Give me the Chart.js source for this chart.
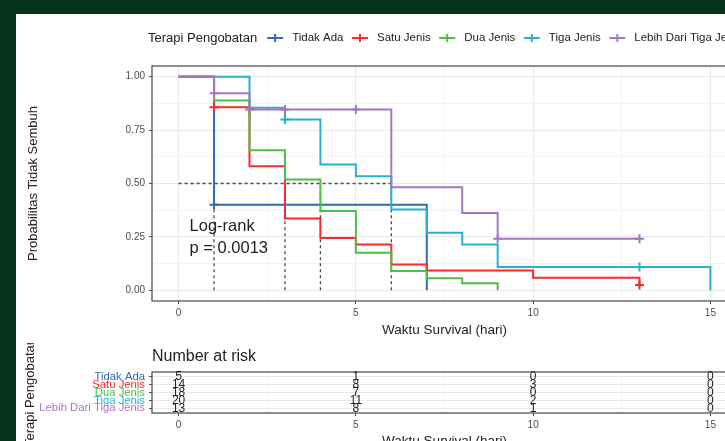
<!DOCTYPE html>
<html lang="id">
<head>
<meta charset="UTF-8">
<title>Kurva Kaplan-Meier Terapi Pengobatan</title>
<script src="https://cdn.jsdelivr.net/npm/chart.js"></script>
<style>
  html, body { margin: 0; padding: 0; width: 725px; height: 441px; overflow: hidden; background: #05341b; }
  #sheet { position: absolute; left: 16px; top: 14px; right: 0; bottom: 0; background: #fff; }
  canvas { position: absolute; left: 0; }
  #kmChart { top: 0; }
  #riskChart { top: 343px; }
</style>
</head>
<body>
<div id="sheet"></div>
<canvas id="kmChart" width="760" height="343"></canvas>
<canvas id="riskChart" width="760" height="107"></canvas>
<script>
const legendTitle = 'Terapi Pengobatan';
const groupNames = ['Tidak Ada', 'Satu Jenis', 'Dua Jenis', 'Tiga Jenis', 'Lebih Dari Tiga Jenis'];
const groupColors = ['#2f6cb2', '#f9292c', '#4cbe44', '#26b0d2', '#a677bf'];

// kaplan-meier steps (hari, probabilitas)
const tidakAdaTime = [0, 1, 7];
const tidakAdaSurv = [1, 0.40, 0];
const satuJenisTime = [0, 1, 2, 3, 4, 5, 6, 7, 10, 13];
const satuJenisSurv = [1, 0.857, 0.581, 0.336, 0.245, 0.215, 0.121, 0.093, 0.059, 0.025];
const duaJenisTime = [0, 1, 2, 3, 4, 5, 6, 7, 8, 9];
const duaJenisSurv = [1, 0.889, 0.656, 0.519, 0.371, 0.176, 0.09, 0.056, 0.033, 0];
const tigaJenisTime = [0, 2, 3, 4, 5, 6, 7, 8, 9, 15];
const tigaJenisSurv = [1, 0.854, 0.80, 0.589, 0.534, 0.378, 0.27, 0.215, 0.109, 0];
const lebihTime = [0, 1, 2, 6, 8, 9, 13];
const lebihSurv = [1, 0.923, 0.846, 0.483, 0.362, 0.241, 0.241];

// censor (+)
const tidakAdaCensorTime = [1];
const tidakAdaCensorSurv = [0.40];
const satuJenisCensorTime = [1, 13];
const satuJenisCensorSurv = [0.857, 0.025];
const duaJenisCensorTime = [];
const duaJenisCensorSurv = [];
const tigaJenisCensorTime = [3, 13];
const tigaJenisCensorSurv = [0.80, 0.109];
const lebihCensorTime = [1, 2, 3, 5, 9, 13];
const lebihCensorSurv = [0.923, 0.846, 0.846, 0.846, 0.241, 0.241];

const medianTimes = [1, 3, 4, 6];
const pvalText = ['Log-rank', 'p = 0.0013'];

// number at risk
const riskTimes = [0, 5, 10, 15];
const riskTidakAda = [5, 1, 0, 0];
const riskSatuJenis = [14, 8, 3, 0];
const riskDuaJenis = [18, 7, 0, 0];
const riskTigaJenis = [20, 11, 2, 0];
const riskLebih = [13, 8, 1, 0];

const xTicks = [0, 5, 10, 15];
const xTickLabels = ['0', '5', '10', '15'];
const yTicks = [0, 0.25, 0.5, 0.75, 1];
const yTickLabels = ['0.00', '0.25', '0.50', '0.75', '1.00'];

const FONT = '"Liberation Sans", Arial, sans-serif';
Chart.defaults.font.family = FONT;

const survTimes = [tidakAdaTime, satuJenisTime, duaJenisTime, tigaJenisTime, lebihTime];
const survProbs = [tidakAdaSurv, satuJenisSurv, duaJenisSurv, tigaJenisSurv, lebihSurv];
const censorTimes = [tidakAdaCensorTime, satuJenisCensorTime, duaJenisCensorTime, tigaJenisCensorTime, lebihCensorTime];
const censorProbs = [tidakAdaCensorSurv, satuJenisCensorSurv, duaJenisCensorSurv, tigaJenisCensorSurv, lebihCensorSurv];
const riskCounts = [riskTidakAda, riskSatuJenis, riskDuaJenis, riskTigaJenis, riskLebih];

// major + minor grid values, like ggplot
const xGrid = [0, 2.5, 5, 7.5, 10, 12.5, 15];
const yGrid = [0, 0.125, 0.25, 0.375, 0.5, 0.625, 0.75, 0.875, 1];

const gridColor = ctx => (ctx.tick && (ctx.tick.major ? '#e9e9e9' : '#f4f4f4'));
const tickColor = ctx => (ctx.tick && ctx.tick.major ? '#4d4d4d' : 'rgba(0,0,0,0)');

function setTicks(values, majors) {
  return scale => {
    scale.ticks = values.map(v => ({ value: v, major: majors.includes(v) }));
  };
}

const datasets = [];
groupNames.forEach((name, i) => {
  datasets.push({
    label: name,
    data: survTimes[i].map((t, k) => ({ x: t, y: survProbs[i][k] })),
    borderColor: groupColors[i],
    borderWidth: 2,
    stepped: 'before',
    pointRadius: 0,
    fill: false,
    order: 10 - i
  });
  datasets.push({
    label: name + ' censor',
    data: censorTimes[i].map((t, k) => ({ x: t, y: censorProbs[i][k] })),
    borderColor: groupColors[i],
    backgroundColor: groupColors[i],
    showLine: false,
    pointStyle: 'cross',
    pointRadius: 4.5,
    pointBorderWidth: 2,
    order: 0
  });
});

// median lines
const maxMedian = Math.max(...medianTimes);
const medianPts = [{ x: 0, y: 0.5 }, { x: maxMedian, y: 0.5 }, { x: maxMedian, y: null }];
medianTimes.forEach(m => {
  medianPts.push({ x: m, y: 0 }, { x: m, y: 0.5 }, { x: m, y: null });
});
datasets.push({
  label: 'median',
  data: medianPts,
  borderColor: '#4a4a4a',
  borderWidth: 1.3,
  borderDash: [3, 3],
  pointRadius: 0,
  spanGaps: false,
  order: 20
});

const panelBorder = {
  id: 'panelBorder',
  afterDatasetsDraw(chart) {
    const { ctx, chartArea: a } = chart;
    ctx.save();
    ctx.strokeStyle = '#555';
    ctx.lineWidth = 1.3;
    ctx.strokeRect(a.left, a.top, a.right - a.left, a.bottom - a.top);
    ctx.restore();
  }
};

const kmText = {
  id: 'kmText',
  afterDraw(chart) {
    const { ctx, scales } = chart;
    ctx.save();
    // legend row on top
    let x = 148;
    const y = 38;
    ctx.textBaseline = 'middle';
    ctx.fillStyle = '#222';
    ctx.font = '13px ' + FONT;
    ctx.fillText(legendTitle, x, y);
    x += ctx.measureText(legendTitle).width + 10;
    ctx.font = '11.5px ' + FONT;
    groupNames.forEach((name, i) => {
      ctx.strokeStyle = groupColors[i];
      ctx.lineWidth = 2;
      ctx.beginPath();
      ctx.moveTo(x, y); ctx.lineTo(x + 16, y);
      ctx.moveTo(x + 8, y - 4); ctx.lineTo(x + 8, y + 4);
      ctx.stroke();
      x += 25;
      ctx.fillStyle = '#222';
      ctx.fillText(name, x, y);
      x += ctx.measureText(name).width + 8.5;
    });
    // log-rank p value
    ctx.font = '16.5px ' + FONT;
    ctx.textBaseline = 'alphabetic';
    ctx.fillStyle = '#222';
    const px = scales.x.getPixelForValue(0.31);
    ctx.fillText(pvalText[0], px, scales.y.getPixelForValue(0.28));
    ctx.fillText(pvalText[1], px, scales.y.getPixelForValue(0.173));
    ctx.restore();
  }
};

new Chart(document.getElementById('kmChart'), {
  type: 'line',
  data: { datasets },
  options: {
    responsive: false,
    animation: false,
    layout: { padding: { left: 0, top: 66, right: 23, bottom: 0 } },
    plugins: { legend: { display: false }, tooltip: { enabled: false } },
    scales: {
      x: {
        type: 'linear',
        min: -0.75,
        max: 15.75,
        afterBuildTicks: setTicks(xGrid, xTicks),
        afterFit: s => { s.height = 42; },
        grid: { color: gridColor, tickColor: tickColor, tickLength: 3, lineWidth: 1 },
        border: { display: false },
        ticks: {
          autoSkip: false, maxRotation: 0, padding: 3, color: '#4d4d4d', font: { size: 10 },
          callback: v => (xTicks.includes(v) ? xTickLabels[xTicks.indexOf(v)] : '')
        },
        title: { display: true, text: 'Waktu Survival (hari)', color: '#222', font: { size: 13.5 }, padding: { top: 0, bottom: 4.4 } }
      },
      y: {
        type: 'linear',
        min: -0.05,
        max: 1.05,
        afterBuildTicks: setTicks(yGrid, yTicks),
        afterFit: s => { s.width = 152; },
        grid: { color: gridColor, tickColor: tickColor, tickLength: 3, lineWidth: 1 },
        border: { display: false },
        ticks: {
          autoSkip: false, padding: 4, color: '#4d4d4d', font: { size: 10 },
          callback: v => (yTicks.includes(v) ? yTickLabels[yTicks.indexOf(v)] : '')
        },
        title: { display: true, text: 'Probabilitas Tidak Sembuh', color: '#222', font: { size: 13 }, padding: { top: 26, bottom: 0 } }
      }
    }
  },
  plugins: [panelBorder, kmText]
});

// risk table
const riskText = {
  id: 'riskText',
  afterDraw(chart) {
    const { ctx, scales } = chart;
    ctx.save();
    ctx.fillStyle = '#222';
    ctx.font = '16px ' + FONT;
    ctx.textBaseline = 'middle';
    ctx.fillText('Number at risk', 152, 13.5);
    ctx.font = '12px ' + FONT;
    ctx.textAlign = 'center';
    riskCounts.forEach((row, i) => {
      row.forEach((n, k) => {
        ctx.fillText(String(n), scales.x.getPixelForValue(riskTimes[k]), scales.y.getPixelForValue(i + 1));
      });
    });
    ctx.restore();
  }
};

const rowValues = groupNames.map((_, i) => i + 1);

new Chart(document.getElementById('riskChart'), {
  type: 'scatter',
  data: { datasets: [] },
  options: {
    responsive: false,
    animation: false,
    layout: { padding: { left: 0, top: 29, right: 23, bottom: 0 } },
    plugins: { legend: { display: false }, tooltip: { enabled: false } },
    scales: {
      x: {
        type: 'linear',
        min: -0.75,
        max: 15.75,
        afterBuildTicks: setTicks(xGrid, xTicks),
        afterFit: s => { s.height = 37; },
        grid: { color: gridColor, tickColor: tickColor, tickLength: 3 },
        border: { display: false },
        ticks: {
          autoSkip: false, maxRotation: 0, padding: 3, color: '#4d4d4d', font: { size: 10 },
          callback: v => (xTicks.includes(v) ? xTickLabels[xTicks.indexOf(v)] : '')
        },
        title: { display: true, text: 'Waktu Survival (hari)', color: '#222', font: { size: 13.5 }, padding: { top: 0, bottom: 1 } }
      },
      y: {
        type: 'linear',
        reverse: true,
        min: 0.4,
        max: 5.6,
        afterBuildTicks: setTicks(rowValues, rowValues),
        afterFit: s => { s.width = 152; },
        grid: { color: gridColor, tickColor: tickColor, tickLength: 3 },
        border: { display: false },
        ticks: {
          autoSkip: false, padding: 4, font: { size: 11.3 },
          color: ctx => groupColors[ctx.tick.value - 1],
          callback: v => groupNames[v - 1]
        },
        title: { display: true, text: 'Terapi Pengobatan', color: '#222', font: { size: 13 }, padding: { top: 23, bottom: 0 } }
      }
    }
  },
  plugins: [panelBorder, riskText]
});
</script>
</body>
</html>
